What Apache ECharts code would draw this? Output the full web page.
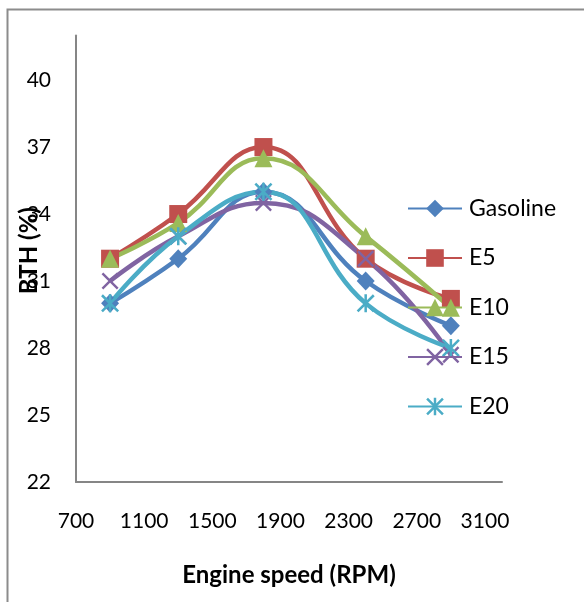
<!DOCTYPE html>
<html><head><meta charset="utf-8">
<script src="https://cdn.jsdelivr.net/npm/echarts@6/dist/echarts.min.js"></script>
<style>html,body{margin:0;padding:0;background:#fff}#c{width:584px;height:602px}</style>
</head><body><div id="c"></div>
<script>
// Data
const rpm = [900, 1300, 1800, 2400, 2900];
const seriesNames = ['Gasoline', 'E5', 'E10', 'E15', 'E20'];
const gasoline = [30, 32, 35, 31, 29];
const e5 = [32, 34, 37, 32, 30.2];
const e10 = [32, 33.6, 36.5, 33, 29.8];
const e15 = [31, 33, 34.5, 32, 27.7];
const e20 = [30, 33, 35, 30, 28];
const xAxisRange = [700, 3200, 400];
const yAxisRange = [22, 42, 3];
const xTitle = 'Engine speed (RPM)';
const yTitle = 'BTH (%)';

const values = [gasoline, e5, e10, e15, e20];
const colors = ['#4F81BD', '#C0504D', '#9BBB59', '#8064A2', '#4BACC6'];
const xMark = 'path://M0,1 L1,0 L10,9 L9,10 Z M9,0 L10,1 L1,10 L0,9 Z';
const starMark = 'path://M0,1 L1,0 L10,9 L9,10 Z M9,0 L10,1 L1,10 L0,9 Z M4.3,0 L5.7,0 L5.7,10 L4.3,10 Z';
const symbols = ['diamond', 'rect', 'triangle', xMark, starMark];
const sizes = [[18, 19], 18, 18, 17, 18];

const chart = echarts.init(document.getElementById('c'), null, {renderer: 'canvas'});
const font = 'Lato';
chart.setOption({
  animation: false,
  backgroundColor: '#fff',
  color: colors,
  graphic: [{
    type: 'rect', left: 5, top: 7, shape: {x: 0, y: 0, width: 640, height: 660},
    style: {fill: 'none', stroke: '#8c8c8c', lineWidth: 2}, silent: true, z: -1
  }],
  grid: {left: 76, right: 82, top: 35.4, bottom: 120, containLabel: false, outerBoundsMode: 'none'},
  legend: {
    orient: 'vertical', left: 407, top: 197, padding: 0,
    itemWidth: 54, itemHeight: 22, itemGap: 26.5,
    textStyle: {fontFamily: font, fontSize: 23, color: '#000', lineHeight: 22, padding: [0, 0, 0, 2]},
    data: seriesNames
  },
  xAxis: {
    type: 'value', min: xAxisRange[0], max: xAxisRange[1], interval: xAxisRange[2],
    name: xTitle, nameLocation: 'middle', nameGap: 81, nameMoveOverlap: false,
    nameTextStyle: {fontFamily: font, fontSize: 24, fontWeight: 'bold', color: '#000'},
    axisLine: {show: true, lineStyle: {color: '#868686', width: 2}},
    axisTick: {show: false},
    axisLabel: {fontFamily: font, fontSize: 21, color: '#000', margin: 29, showMaxLabel: false,
      formatter: v => String(v)},
    splitLine: {show: false}
  },
  yAxis: {
    type: 'value', min: yAxisRange[0], max: yAxisRange[1], interval: yAxisRange[2],
    name: yTitle, nameLocation: 'middle', nameGap: 35, nameRotate: 90, nameMoveOverlap: false,
    nameTextStyle: {fontFamily: font, fontSize: 24, fontWeight: 'bold', color: '#000', padding: [0, 0, 0, 16]},
    axisLine: {show: true, lineStyle: {color: '#868686', width: 2}},
    axisTick: {show: false},
    axisLabel: {fontFamily: font, fontSize: 21, color: '#000', margin: 25, showMaxLabel: false,
      formatter: v => String(v)},
    splitLine: {show: false}
  },
  series: seriesNames.map((n, i) => ({
    name: n, type: 'line', smooth: 0.45,
    data: rpm.map((x, j) => [x, values[i][j]]),
    symbol: symbols[i], symbolSize: sizes[i], showSymbol: true,
    lineStyle: {width: 4.5, color: colors[i]},
    itemStyle: {color: colors[i], borderWidth: 0}
  }))
});
</script></body></html>
